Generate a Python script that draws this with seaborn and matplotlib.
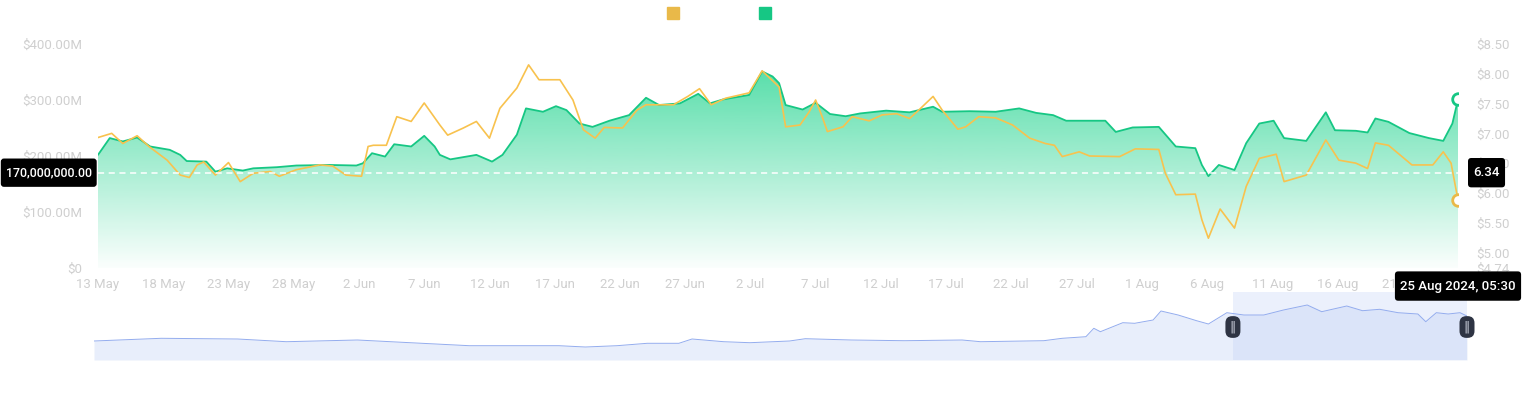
import numpy as np
import pandas as pd
import matplotlib
matplotlib.use("Agg")
import matplotlib.pyplot as plt
import matplotlib.dates as mdates
from matplotlib.colors import to_rgb
from matplotlib.lines import Line2D
from matplotlib.patches import BoxStyle
from matplotlib.ticker import FuncFormatter
import seaborn as sns

# ------ DATA ------ #

START = pd.Timestamp("2024-05-13")
END_DAY = 104.23  # 25 Aug 2024, 05:30

# green area (left axis, $M)
green_days = [0, 0.9, 1.9, 3.0, 4.0, 5.5, 6.3, 6.8, 8.3, 9.0, 9.9, 11.1, 11.9, 13.7, 15.2,
              17.8, 19.8, 20.3, 21.0, 22.0, 22.7, 24.0, 25.0, 25.8, 26.2, 27.0, 29.0, 30.2, 31.0, 32.1,
              32.8, 34.1, 35.1, 35.9, 36.9, 37.9, 39.2, 40.7, 42.0, 43.0, 44.6, 46.0, 46.9, 47.9, 49.9,
              50.9, 51.7, 52.2, 52.7, 54.0, 55.0, 56.1, 57.3, 58.4, 60.4, 62.2, 64.0, 64.7, 66.8, 68.8,
              70.6, 71.9, 73.2, 74.2, 75.7, 77.2, 78.0, 79.3, 81.3, 82.6, 84.1, 84.6, 85.1, 85.9, 87.1,
              88.0, 89.0, 90.1, 90.9, 92.6, 94.1, 94.8, 96.4, 97.3, 97.9, 98.9, 100.5, 102.0, 103.1, 103.8,
              104.23]
green_vals = [202, 232, 226, 233, 217, 211, 202, 191, 190, 172, 178, 174, 178, 180, 183,
              184, 183, 187, 205, 199, 221, 217, 236, 217, 202, 194, 202, 190, 202, 238,
              285, 279, 289, 282, 258, 252, 263, 273, 304, 291, 294, 311, 294, 301, 309,
              351, 342, 330, 291, 283, 295, 275, 271, 276, 281, 278, 288, 279, 280, 279,
              285, 277, 273, 263, 263, 263, 243, 251, 252, 217, 214, 184, 164, 184, 175,
              223, 258, 263, 232, 227, 278, 246, 245, 242, 267, 261, 241, 232, 227, 258,
              301]

# gold line (right axis, $)
gold_days = [0, 1.05, 1.9, 3.0, 3.9, 5.3, 6.3, 7.0, 7.6, 8.1, 9.0, 10.0, 10.9, 11.9, 13.2,
             13.9, 15.2, 17.0, 18.0, 19.0, 20.2, 20.7, 21.1, 22.1, 22.9, 24.0, 25.0, 26.2, 26.8, 28.0,
             29.0, 30.0, 30.8, 32.1, 33.0, 33.8, 35.4, 36.4, 37.2, 38.1, 38.8, 40.2, 41.3, 42.0, 44.1,
             45.2, 46.1, 47.0, 48.1, 49.9, 50.9, 52.2, 52.7, 53.8, 54.5, 55.0, 55.5, 55.9, 57.1, 57.8,
             59.1, 60.1, 61.2, 62.2, 62.9, 64.0, 64.7, 65.9, 66.5, 67.5, 68.8, 70.1, 71.4, 72.6, 73.3,
             73.9, 75.2, 76.0, 78.3, 79.5, 81.3, 81.8, 82.6, 84.1, 84.6, 85.1, 86.0, 87.1, 88.0, 89.0,
             90.3, 90.9, 92.6, 94.1, 95.1, 96.4, 97.3, 97.9, 98.9, 100.7, 102.3, 103.1, 103.7, 104.23]
gold_vals = [6.93, 7.00, 6.83, 6.96, 6.78, 6.55, 6.30, 6.26, 6.47, 6.52, 6.30, 6.51, 6.19, 6.33, 6.36,
             6.28, 6.39, 6.47, 6.45, 6.30, 6.28, 6.78, 6.80, 6.80, 7.28, 7.20, 7.51, 7.14, 6.97, 7.09,
             7.20, 6.92, 7.42, 7.76, 8.15, 7.90, 7.90, 7.56, 7.06, 6.92, 7.10, 7.09, 7.39, 7.48, 7.48,
             7.62, 7.75, 7.48, 7.59, 7.68, 8.05, 7.78, 7.11, 7.14, 7.36, 7.56, 7.28, 7.03, 7.11, 7.28,
             7.21, 7.31, 7.33, 7.25, 7.39, 7.62, 7.39, 7.07, 7.11, 7.28, 7.26, 7.14, 6.92, 6.83, 6.80,
             6.61, 6.69, 6.62, 6.61, 6.74, 6.73, 6.33, 5.97, 5.98, 5.55, 5.24, 5.73, 5.41, 6.11, 6.58,
             6.65, 6.19, 6.30, 6.89, 6.55, 6.50, 6.41, 6.84, 6.80, 6.47, 6.47, 6.69, 6.50, 5.88]

# navigator series (relative units)
nav_days = [0, 5.1, 10.9, 14.6, 20.0, 23.4, 28.5, 35.3, 37.3, 39.7, 42.0, 44.4, 45.4, 47.8, 49.8,
            52.8, 54.0, 57.5, 61.5, 65.9, 67.3, 72.1, 73.5, 75.3, 75.9, 76.4, 78.1, 79.0, 80.4, 81.0,
            82.3, 83.7, 84.6, 86.0, 87.3, 88.8, 90.3, 92.1, 93.2, 95.1, 96.3, 97.6, 99.0, 100.5, 101.1,
            101.9, 102.8, 103.7, 104.23]
nav_vals = [19, 21.7, 21, 18.3, 20, 17.7, 14.3, 14.3, 13, 14.3, 16.7, 16.7, 21, 18.3, 17.3,
            19, 21.3, 20, 19.3, 20, 18.3, 19.3, 21.7, 23.3, 31.7, 28.3, 37.3, 36.7, 40, 49,
            45, 39.3, 36, 47.3, 45, 45, 50, 55, 48.3, 54, 49.3, 50.7, 47.3, 46, 38.3,
            47.3, 46, 47.3, 44]
nav_selected = (86.46, 104.23)

left_ticks = [0, 100, 200, 300, 400]
right_ticks = [4.74, 5.00, 5.50, 6.00, 6.50, 7.00, 7.50, 8.00, 8.50]
x_ticks = pd.date_range(START, "2024-08-21", freq="5D")

cross_left = 170
cross_right = 6.34
cross_left_label = "170,000,000.00"
cross_right_label = "6.34"
cross_date_label = "25 Aug 2024, 05:30"

# ------ STYLE ------ #

GREEN = "#16c784"
GOLD = "#f8c24e"
GOLD_SQ = "#e9b949"
TICK_GRAY = "#cfcfcf"

sns.set_style("white")
plt.rcParams["font.family"] = ["Roboto", "DejaVu Sans"]


def to_dates(days):
    return START + pd.to_timedelta(days, unit="D")


def tag_box(x0, y0, width, height, mutation_size):
    # rounded tag, more padding top/bottom than left/right
    px, py = 0.4 * mutation_size, 0.62 * mutation_size
    return BoxStyle.Round(pad=0, rounding_size=0.25)(
        x0 - px, y0 - py, width + 2 * px, height + 2 * py, mutation_size)


green_dates = to_dates(green_days)
gold_dates = to_dates(gold_days)
nav_dates = to_dates(nav_days)
end_date = to_dates([END_DAY])[0]

fig = plt.figure(figsize=(15.3, 3.93), dpi=100)

# ------ NAVIGATOR ------ #

axn = fig.add_axes([94 / 1530, 1 - 360 / 393, 1373 / 1530, 68 / 393])
axn.set_zorder(-1)
axn.fill_between(nav_dates, nav_vals, 0, color="#e8eefb", lw=0)
sns.lineplot(x=nav_dates, y=nav_vals, ax=axn, color="#93acee", lw=0.7)
sel = to_dates(list(nav_selected))
axn.axvspan(sel[0], sel[1], color="#c3d2f7", alpha=0.33, lw=0)
for d in sel:
    axn.text(d, 33, "\u2016", ha="center", va="center", fontsize=9, color="#c9ceda",
             family=["DejaVu Sans"],
             bbox=dict(boxstyle="round,pad=0.35,rounding_size=0.55", fc="#2e3443", ec="none"))
axn.set_xlim(START, end_date)
axn.set_ylim(0, 68)
axn.axis("off")

# ------ MAIN CHART ------ #

ax = fig.add_axes([98 / 1530, 1 - 268 / 393, 1360 / 1530, 224 / 393])

poly = ax.fill_between(green_dates, green_vals, 0, color="none", lw=0)
gx = mdates.date2num(green_dates)
rgba = np.zeros((256, 1, 4))
rgba[..., :3] = to_rgb("#22d48f")
rgba[..., 3] = np.linspace(0.02, 0.85, 256)[:, None]
im = ax.imshow(rgba, extent=[gx[0], gx[-1], 0, 400], origin="lower", aspect="auto", zorder=1)
im.set_clip_path(poly.get_paths()[0], transform=ax.transData)

sns.lineplot(x=green_dates, y=green_vals, ax=ax, color=GREEN, lw=1.3, zorder=3)
sns.scatterplot(x=[green_dates[-1]], y=[green_vals[-1]], ax=ax, s=70, marker="o",
                facecolor="white", edgecolor=GREEN, linewidth=2, zorder=6)

ax2 = ax.twinx()
sns.lineplot(x=gold_dates, y=gold_vals, ax=ax2, color=GOLD, lw=1.2, zorder=3)
sns.scatterplot(x=[gold_dates[-1]], y=[gold_vals[-1]], ax=ax2, s=70, marker="o",
                facecolor="white", edgecolor=GOLD_SQ, linewidth=2, zorder=6)
ax2.axhline(cross_right, color="white", lw=1.1, ls=(0, (4, 3)), zorder=5)

ax.set_xlim(START, end_date)
ax.set_ylim(0, 400)
ax2.set_ylim(4.74, 8.50)

ax.set_xticks(x_ticks)
ax.xaxis.set_major_formatter(mdates.DateFormatter("%-d %b"))
ax.set_yticks(left_ticks)
ax.yaxis.set_major_formatter(FuncFormatter(lambda v, _: "$0" if v == 0 else f"${v:.2f}M"))
ax2.set_yticks(right_ticks)
ax2.yaxis.set_major_formatter(FuncFormatter(lambda v, _: f"${v:.2f}"))

ax.tick_params(axis="x", length=0, pad=7, labelsize=9.5, labelcolor=TICK_GRAY)
ax.tick_params(axis="y", length=0, pad=11.5, labelsize=9.5, labelcolor=TICK_GRAY)
ax2.tick_params(axis="y", length=0, pad=13, labelsize=9.5, labelcolor=TICK_GRAY)
for a in (ax, ax2):
    a.set_xlabel("")
    a.set_ylabel("")
    for s in a.spines.values():
        s.set_visible(False)

# ------ CROSSHAIR LABELS ------ #

box = dict(boxstyle=tag_box, fc="black", ec="none")
label_kw = dict(textcoords="offset points", va="center", fontweight="medium",
                color="white", bbox=box, zorder=10, annotation_clip=False)
ax2.annotate(cross_left_label, xy=(0, cross_right), xycoords=("axes fraction", "data"),
             xytext=(-4.5, 0), ha="right", fontsize=8.9, **label_kw)
ax2.annotate(cross_right_label, xy=(1, cross_right), xycoords=("axes fraction", "data"),
             xytext=(11, 0), ha="left", fontsize=9.5, **label_kw)
ax2.annotate(cross_date_label, xy=(mdates.date2num(end_date), 0), xycoords=("data", "axes fraction"),
             xytext=(0, -13), ha="center", fontsize=9.5, **label_kw)

# ------ LEGEND ------ #

handles = [Line2D([], [], marker="s", ls="", color=GOLD_SQ, markersize=8),
           Line2D([], [], marker="s", ls="", color=GREEN, markersize=8)]
fig.legend(handles=handles, labels=["", ""], ncol=2, loc="upper center",
           bbox_to_anchor=(722 / 1530, 1 + 6 / 393), frameon=False,
           handlelength=1, handletextpad=0.4, columnspacing=5.2, fontsize=10)

fig.savefig("out.png", dpi=100)
